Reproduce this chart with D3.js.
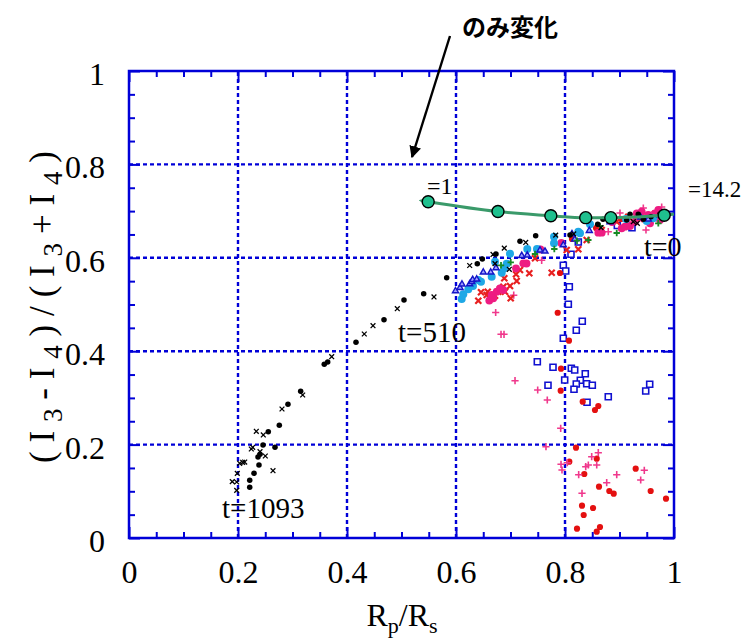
<!DOCTYPE html>
<html><head><meta charset="utf-8">
<script src="https://cdn.jsdelivr.net/npm/d3@7"></script>
<style>html,body{margin:0;padding:0;background:#fff;}svg{display:block;}</style>
</head><body>
<svg id="c" width="744" height="640"></svg>
<script>
// ---- data ----
const xTicks = [0, 0.2, 0.4, 0.6, 0.8, 1];
const yTicks = [0, 0.2, 0.4, 0.6, 0.8, 1];
const xTickLabels = ["0", "0.2", "0.4", "0.6", "0.8", "1"];
const yTickLabels = ["0", "0.2", "0.4", "0.6", "0.8", "1"];

const blackDots = [[0.2215,0.1086],[0.2215,0.1236],[0.2294,0.1385],[0.2385,0.1563],[0.2367,0.1734],[0.2404,0.1792],[0.2459,0.1991],[0.2679,0.1942],[0.2556,0.2276],[0.2758,0.2413],[0.2917,0.2863],[0.3150,0.3141],[0.3583,0.3719],[0.3646,0.3769],[0.4165,0.4191],[0.4679,0.4675],[0.5046,0.5096],[0.5407,0.5231],[0.5829,0.5574],[0.6391,0.5874],[0.6483,0.5974],[0.6734,0.6081],[0.7174,0.6353],[0.7462,0.6473],[0.8092,0.6488],[0.8600,0.6717],[0.8697,0.6824],[0.9132,0.6809],[0.9193,0.6931],[0.9345,0.6931],[0.9437,0.6824],[0.9578,0.6880],[0.9743,0.6938]];
const blackCrosses = [[0.1976,0.1021],[0.1976,0.1199],[0.1895,0.1206],[0.1987,0.1385],[0.2642,0.1441],[0.2086,0.1621],[0.2031,0.1600],[0.2123,0.1627],[0.2501,0.1756],[0.2404,0.1848],[0.2244,0.1906],[0.2270,0.1942],[0.2464,0.2206],[0.2336,0.2285],[0.2807,0.2762],[0.3187,0.3062],[0.3719,0.3882],[0.4317,0.4368],[0.4477,0.4546],[0.4923,0.4910],[0.5596,0.5161],[0.6251,0.5835],[0.6716,0.5874],[0.6978,0.5754],[0.6679,0.6071],[0.6886,0.6206],[0.7279,0.6328],[0.7829,0.6486],[0.8160,0.6510],[0.8661,0.6645],[0.9253,0.6773],[0.9327,0.6739]];
const blueSquares = [[0.8110,0.6075],[0.7969,0.5839],[0.8013,0.5717],[0.8079,0.5381],[0.8061,0.5004],[0.8317,0.4640],[0.8207,0.4448],[0.7969,0.4276],[0.7492,0.3775],[0.7780,0.3655],[0.8116,0.3634],[0.8178,0.3597],[0.8372,0.3518],[0.8281,0.3377],[0.7994,0.3383],[0.8207,0.3298],[0.8398,0.3304],[0.8501,0.3270],[0.7688,0.3270],[0.8165,0.3184],[0.9554,0.3291],[0.9481,0.3148],[0.8794,0.3026],[0.8404,0.2906],[0.8244,0.6338],[0.8960,0.6692],[0.9229,0.6645]];
const blueTriangles = [[0.5991,0.5289],[0.6073,0.5360],[0.6110,0.5433],[0.6251,0.5439],[0.6288,0.5488],[0.6306,0.5531],[0.6380,0.5540],[0.6501,0.5690],[0.6637,0.5690],[0.6734,0.5782],[0.7206,0.6045],[0.7308,0.6054],[0.7541,0.6161],[0.7633,0.6139],[0.7969,0.6274],[0.8128,0.6510],[0.8178,0.6396],[0.8446,0.6580],[0.8826,0.6767],[0.9389,0.6867],[0.9528,0.6824],[0.9743,0.6916]];
const cyanDots = [[0.6105,0.5118],[0.6134,0.5218],[0.6226,0.5325],[0.6312,0.5396],[0.6409,0.5525],[0.6459,0.5488],[0.6655,0.5595],[0.6716,0.5916],[0.6839,0.5681],[0.6886,0.5775],[0.6930,0.5874],[0.6991,0.6088],[0.7308,0.6188],[0.7486,0.6188],[0.7798,0.6310],[0.7798,0.6452],[0.8244,0.6559],[0.8275,0.6525],[0.8459,0.6717],[0.9119,0.6831],[0.9499,0.6788],[0.9620,0.6846]];
const redCrosses = [[0.6409,0.5081],[0.6459,0.5261],[0.6582,0.5274],[0.6563,0.5203],[0.6716,0.5188],[0.6776,0.5274],[0.6807,0.5325],[0.6868,0.5381],[0.6899,0.5274],[0.6991,0.5396],[0.7004,0.5133],[0.6886,0.5561],[0.7114,0.5503],[0.7101,0.5647],[0.7174,0.5739],[0.7345,0.5668],[0.7450,0.5989],[0.7756,0.5681],[0.8031,0.6167],[0.8244,0.6182],[0.8398,0.6381],[0.8673,0.6595],[0.8949,0.6773],[0.9162,0.6880],[0.9376,0.6831],[0.9651,0.6938]];
const redDots = [[0.7908,0.5675],[0.7866,0.4824],[0.8073,0.4225],[0.7927,0.3625],[0.7921,0.3154],[0.8325,0.2919],[0.8611,0.2827],[0.8550,0.2741],[0.8202,0.1934],[0.8079,0.1634],[0.8582,0.1698],[0.8354,0.1370],[0.8624,0.1099],[0.8813,0.1006],[0.8894,0.0949],[0.9297,0.1484],[0.9572,0.1006],[0.9853,0.0842],[0.8312,0.0692],[0.8514,0.0642],[0.8343,0.0492],[0.8220,0.0199],[0.8642,0.0236],[0.8582,0.0135],[0.8128,0.6403],[0.8569,0.6638],[0.9028,0.6831]];
const pinkPluses = [[0.6728,0.4829],[0.6826,0.4362],[0.6881,0.4362],[0.7059,0.5199],[0.7083,0.3368],[0.7499,0.3169],[0.7572,0.5946],[0.7675,0.2955],[0.7921,0.2349],[0.7651,0.1955],[0.8611,0.1827],[0.8490,0.1741],[0.7927,0.1578],[0.8042,0.1612],[0.7945,0.1456],[0.8380,0.1527],[0.8428,0.1563],[0.8582,0.1563],[0.8251,0.1355],[0.8949,0.1355],[0.8765,0.1184],[0.9455,0.1450],[0.9389,0.1242],[0.8312,0.0957],[0.8794,0.6559],[0.9486,0.6595],[0.9774,0.7088],[0.9437,0.7066],[0.9193,0.6724],[0.9009,0.6959]];
const pinkDots = [[0.6611,0.5086],[0.6655,0.5203],[0.6684,0.5133],[0.6747,0.5274],[0.6807,0.5347],[0.6868,0.5310],[0.7101,0.5775],[0.7235,0.5882],[0.7294,0.5878],[0.7550,0.6178],[0.7932,0.6317],[0.8611,0.6538],[0.8673,0.6538],[0.8862,0.6767],[0.9040,0.6632],[0.9101,0.6666],[0.9193,0.6681],[0.9284,0.6773],[0.9437,0.6846],[0.9528,0.6916],[0.9651,0.6953],[0.9743,0.6953],[0.9743,0.6809],[0.9560,0.6739],[0.9712,0.7024],[0.9407,0.6987],[0.9316,0.6953],[0.9853,0.6895]];
const greenPluses = [[0.6826,0.5839],[0.7004,0.5904],[0.7450,0.6081],[0.7804,0.6188],[0.8220,0.6366],[0.8428,0.6381],[0.8642,0.6681],[0.8949,0.6531],[0.9712,0.6739]];
const modelX = [0.549, 0.677, 0.774, 0.838, 0.884, 0.982];
const modelY = [0.720, 0.699, 0.690, 0.686, 0.686, 0.691];
const modelLineEnd = [1.0, 0.694];

// ---- drawing ----
const svg = d3.select("#c");
const x = d3.scaleLinear().domain([0, 1]).range([129, 674]);
const y = d3.scaleLinear().domain([0, 1]).range([538, 71]);
const BLUE = "#0000d8";
const serif = "'Liberation Serif','Times New Roman',serif";

// grid
const grid = svg.append("g");
[0.2,0.4,0.6,0.8].forEach(v => {
  grid.append("line").attr("x1", x(v)).attr("x2", x(v)).attr("y1", y(0)).attr("y2", y(1));
  grid.append("line").attr("x1", x(0)).attr("x2", x(1)).attr("y1", y(v)).attr("y2", y(v));
});
grid.selectAll("line").attr("stroke", BLUE).attr("stroke-width", 2.4).attr("stroke-dasharray", "4,3");

// axes with inward ticks
const minor = d3.range(0, 1.0001, 0.05).map(v => +v.toFixed(2)).filter(v => !xTicks.includes(v));
function axisSet(axisFn, scale, tr, labels) {
  const gMinor = svg.append("g").attr("transform", tr)
    .call(axisFn(scale).tickValues(minor).tickSize(-6).tickFormat(""));
  const gMajor = svg.append("g").attr("transform", tr)
    .call(axisFn(scale).tickValues(xTicks).tickSize(-11).tickPadding(labels ? 24 : 0)
      .tickFormat((d, i) => labels ? labels[i] : ""));
  [gMinor, gMajor].forEach(g => {
    g.select(".domain").remove();
    g.selectAll(".tick line").attr("stroke", BLUE).attr("stroke-width", 2);
  });
  gMajor.attr("font-family", serif);
  gMajor.selectAll("text").attr("font-family", serif).attr("font-size", 32).attr("fill", "#000");
  return gMajor;
}
const gx = axisSet(d3.axisBottom, x, `translate(0,${y(0)})`, xTickLabels);
gx.selectAll("text").attr("dy", "0.66em");
axisSet(d3.axisTop, x, `translate(0,${y(1)})`, null);
const gy = axisSet(d3.axisLeft, y, `translate(${x(0)},0)`, yTickLabels);
gy.selectAll("text").attr("dy", "0.42em");
axisSet(d3.axisRight, y, `translate(${x(1)},0)`, null);

// frame
svg.append("rect").attr("x", x(0)).attr("y", y(1)).attr("width", x(1) - x(0)).attr("height", y(0) - y(1))
  .attr("fill", "none").attr("stroke", BLUE).attr("stroke-width", 2.5);

// markers
const pts = svg.append("g");
function crossPath(s){ return `M${-s},${-s}L${s},${s}M${-s},${s}L${s},${-s}`; }
function plusPath(s){ return `M${-s},0L${s},0M0,${-s}L0,${s}`; }
function drawPaths(data, d, stroke, sw, fill) {
  pts.append("g").selectAll("path").data(data).join("path")
    .attr("transform", p => `translate(${x(p[0])},${y(p[1])})`)
    .attr("d", d).attr("stroke", stroke).attr("stroke-width", sw).attr("fill", fill || "none");
}
drawPaths(blueSquares, "M-3,-3H3V3H-3Z", "#1010d0", 1.6, "#fff");
drawPaths(redDots, d3.symbol(d3.symbolCircle, 30)(), "none", 0, "#e41010");
drawPaths(pinkPluses, plusPath(3.6), "#f0388c", 1.6);
drawPaths(redCrosses, crossPath(3), "#e82020", 2.2);
drawPaths(pinkDots, d3.symbol(d3.symbolCircle, 48)(), "none", 0, "#ee1c82");
drawPaths(cyanDots, d3.symbol(d3.symbolCircle, 50)(), "none", 0, "#1ea8e6");
drawPaths(blueTriangles, d3.symbol(d3.symbolTriangle, 16)(), "#1414c8", 1.4, "#a0a0ff");
drawPaths(greenPluses, plusPath(3.2), "#178a24", 1.8);
drawPaths(blackDots, d3.symbol(d3.symbolCircle, 24)(), "none", 0, "#000");
drawPaths(blackCrosses, crossPath(2.4), "#000", 1.3);

// model curve
const defs = svg.append("defs");
defs.append("marker").attr("id", "gArrow").attr("viewBox", "0 0 10 10").attr("refX", 2).attr("refY", 5)
  .attr("markerWidth", 4).attr("markerHeight", 4).attr("orient", "auto-start-reverse")
  .append("path").attr("d", "M0,0L10,5L0,10Z").attr("fill", "#3a9a6a");
const modelPts = modelX.map((v, i) => [v, modelY[i]]);
const linePts = modelPts.concat([modelLineEnd]);
svg.append("path").datum(linePts)
  .attr("d", d3.line().x(d => x(d[0])).y(d => y(d[1])).curve(d3.curveMonotoneX))
  .attr("fill", "none").attr("stroke", "#3a9a6a").attr("stroke-width", 3)
  .attr("marker-start", "url(#gArrow)");
svg.append("g").selectAll("circle").data(modelPts).join("circle")
  .attr("cx", d => x(d[0])).attr("cy", d => y(d[1])).attr("r", 6)
  .attr("fill", "#1fc08e").attr("stroke", "#000").attr("stroke-width", 1.4);

// annotations
function txt(t, px, py, size, anchor) {
  return svg.append("text").attr("x", px).attr("y", py).attr("font-family", serif)
    .attr("font-size", size).attr("text-anchor", anchor || "start").text(t);
}
txt("=1", 427, 194, 24);
txt("=14.2", 688, 197, 23);
txt("t=0", 644, 256, 28);
txt("t=510", 398, 342, 29);
txt("t=1093", 222, 518, 29);

svg.append("text").attr("x", 462).attr("y", 36)
  .attr("font-family", "'Noto Sans CJK JP','Noto Sans',sans-serif").attr("font-weight", "bold")
  .attr("font-size", 24).text("のみ変化");

defs.append("marker").attr("id", "bArrow").attr("viewBox", "0 0 10 10").attr("refX", 9).attr("refY", 5)
  .attr("markerWidth", 5).attr("markerHeight", 5).attr("orient", "auto")
  .append("path").attr("d", "M0,0L10,5L0,10Z").attr("fill", "#000");
svg.append("line").attr("x1", 450).attr("y1", 36).attr("x2", 412).attr("y2", 157)
  .attr("stroke", "#000").attr("stroke-width", 2.4).attr("marker-end", "url(#bArrow)");

// axis titles
const xl = svg.append("text").attr("x", 402).attr("y", 626).attr("text-anchor", "middle")
  .attr("font-family", serif).attr("font-size", 32);
xl.append("tspan").text("R");
xl.append("tspan").attr("font-size", 22).attr("dy", 7).text("p");
xl.append("tspan").attr("dy", -7).text("/R");
xl.append("tspan").attr("font-size", 22).attr("dy", 7).text("s");

const yl = svg.append("text").attr("transform", "translate(54,307) rotate(-90)").attr("text-anchor", "middle")
  .attr("font-family", serif).attr("font-size", 35)
  .attr("textLength", 312).attr("lengthAdjust", "spacing");
const parts = [["(I",0],["3",1],["-I",0],["4",1],[")/(I",0],["3",1],["+I",0],["4",1],[")",0]];
let prev = 0;
parts.forEach(([t, s]) => {
  const sh = s ? 8 : 0;
  yl.append("tspan").attr("font-size", s ? 27 : 35).attr("dy", sh - prev).text(t);
  prev = sh;
});
</script>
</body></html>
